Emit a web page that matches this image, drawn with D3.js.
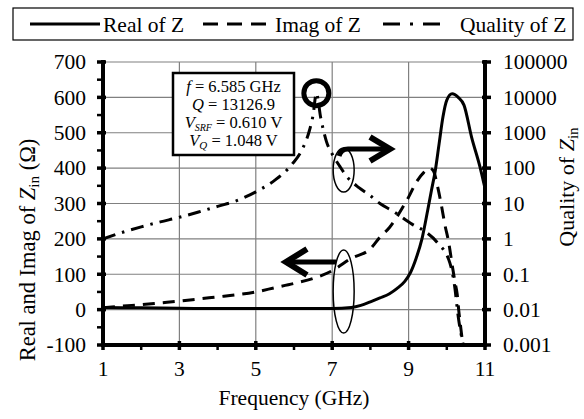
<!DOCTYPE html>
<html>
<head>
<meta charset="utf-8">
<script src="https://cdn.jsdelivr.net/npm/d3@7/dist/d3.min.js"></script>
<style>
  html, body { margin: 0; padding: 0; background: #fff; }
  svg { display: block; }
  text { font-family: "Liberation Serif", serif; fill: #000; }
</style>
</head>
<body>
<svg id="chart" width="584" height="419"></svg>
<script>
// ---- Data ----
const freqTicks = [1, 3, 5, 7, 9, 11];
const leftTicks = [-100, 0, 100, 200, 300, 400, 500, 600, 700];
const rightTicks = [0.001, 0.01, 0.1, 1, 10, 100, 1000, 10000, 100000];
const rightTickLabels = ["0.001", "0.01", "0.1", "1", "10", "100", "1000", "10000", "100000"];

const realFreq = [1, 2, 3, 4, 5, 6, 6.5, 7, 7.5, 7.75, 8, 8.25, 8.5, 8.7, 8.9, 9.05, 9.2, 9.35, 9.5, 9.6, 9.7, 9.8, 9.9, 10, 10.14, 10.3, 10.45, 10.65, 10.87, 11];
const realZ    = [6, 5, 4, 3, 3, 3, 3, 3, 6, 12, 22, 33, 45, 60, 80, 105, 146, 200, 281, 338, 394, 470, 545, 592, 610, 600, 578, 487, 403, 343];

const imagFreq = [1, 1.5, 2, 2.5, 3, 3.5, 4, 4.5, 5, 5.5, 6, 6.5, 7, 7.5, 8, 8.25, 8.5, 8.85, 9, 9.2, 9.4, 9.55, 9.65, 9.75, 9.85, 9.95, 10.05, 10.15, 10.22, 10.27, 10.32, 10.37, 10.42];
const imagZ    = [5, 10, 14, 19, 24, 30, 36, 42, 50, 62, 74, 88, 110, 145, 172, 205, 232, 290, 318, 360, 388, 400, 392, 352, 300, 240, 190, 120, 75, 45, -10, -55, -100];

const qualFreq = [1, 1.58, 2, 2.5, 3, 3.5, 4, 4.5, 5, 5.5, 5.95, 6.2, 6.4, 6.5, 6.585, 6.7, 6.85, 7, 7.2, 7.4, 7.7, 8, 8.25, 8.6, 9.1, 9.43, 9.75, 10.08, 10.2, 10.3, 10.43];
const qualZ    = [1, 1.62, 2.19, 3.02, 4.07, 5.75, 8.3, 12, 21.4, 45.7, 129, 316, 1122, 3162, 13126.9, 2630, 562, 251, 112, 55, 28, 16.6, 10, 6.0, 2.57, 1.62, 0.79, 0.21, 0.05, 0.0063, 0.001];

const legendLabels = ["Real of Z", "Imag of Z", "Quality of Z"];

// ---- Layout ----
const svg = d3.select("#chart");
const L = 103, R = 485, T = 62, B = 345;
const FS = 21.5;

const x = d3.scaleLinear().domain([1, 11]).range([L, R]);
const yL = d3.scaleLinear().domain([-100, 700]).range([B, T]);
const yR = d3.scaleLog().domain([0.001, 100000]).range([B, T]);

svg.append("defs").append("clipPath").attr("id", "clip")
  .append("rect").attr("x", L).attr("y", T - 20).attr("width", R - L).attr("height", B - T + 20);

// grid
const grid = svg.append("g");
grid.selectAll("line.h").data(leftTicks.filter(d => d > -100)).join("line")
  .attr("x1", L).attr("x2", R).attr("y1", d => yL(d)).attr("y2", d => yL(d))
  .attr("stroke", "#808080").attr("stroke-width", 1.2);
grid.selectAll("line.v").data([3, 5, 7, 9]).join("line")
  .attr("x1", d => x(d)).attr("x2", d => x(d)).attr("y1", T).attr("y2", B)
  .attr("stroke", "#808080").attr("stroke-width", 1.2);

// series
const plot = svg.append("g").attr("clip-path", "url(#clip)");
const lineReal = d3.line().x((d, i) => x(realFreq[i])).y(d => yL(d)).curve(d3.curveMonotoneX);
const lineImag = d3.line().x((d, i) => x(imagFreq[i])).y(d => yL(d)).curve(d3.curveMonotoneX);
const lineQual = d3.line().x((d, i) => x(qualFreq[i])).y(d => yR(d)).curve(d3.curveMonotoneX);

plot.append("path").attr("d", lineQual(qualZ)).attr("fill", "none").attr("stroke", "#000")
  .attr("stroke-width", 3).attr("stroke-dasharray", "13,7,2.5,7");
plot.append("path").attr("d", lineImag(imagZ)).attr("fill", "none").attr("stroke", "#000")
  .attr("stroke-width", 3).attr("stroke-dasharray", "12,8");
plot.append("path").attr("d", lineReal(realZ)).attr("fill", "none").attr("stroke", "#000")
  .attr("stroke-width", 3);

// axes
const ax = svg.append("g");
// left axis
ax.append("line").attr("x1", L).attr("x2", L).attr("y1", T - 2).attr("y2", B + 2).attr("stroke", "#000").attr("stroke-width", 4);
ax.selectAll("line.lmaj").data(leftTicks).join("line")
  .attr("x1", L - 6).attr("x2", L + 3).attr("y1", d => yL(d)).attr("y2", d => yL(d))
  .attr("stroke", "#000").attr("stroke-width", 3.5);
ax.selectAll("line.lmin").data(leftTicks.slice(0, -1).map(d => d + 50)).join("line")
  .attr("x1", L - 6).attr("x2", L).attr("y1", d => yL(d)).attr("y2", d => yL(d))
  .attr("stroke", "#000").attr("stroke-width", 2.5);
ax.selectAll("text.lt").data(leftTicks).join("text")
  .attr("x", L - 17).attr("y", d => yL(d)).attr("dy", "0.34em")
  .attr("text-anchor", "end").attr("font-size", FS).text(d => d);

// bottom axis
ax.append("line").attr("x1", L - 2).attr("x2", R + 2).attr("y1", B).attr("y2", B).attr("stroke", "#000").attr("stroke-width", 4);
ax.selectAll("line.bmaj").data(freqTicks).join("line")
  .attr("x1", d => x(d)).attr("x2", d => x(d)).attr("y1", B - 4).attr("y2", B + 5)
  .attr("stroke", "#000").attr("stroke-width", 3.5);
ax.selectAll("line.bmin").data([2, 4, 6, 8, 10]).join("line")
  .attr("x1", d => x(d)).attr("x2", d => x(d)).attr("y1", B).attr("y2", B + 5)
  .attr("stroke", "#000").attr("stroke-width", 2.5);
ax.selectAll("text.bt").data(freqTicks).join("text")
  .attr("x", d => x(d)).attr("y", B + 31)
  .attr("text-anchor", "middle").attr("font-size", FS).text(d => d);

// right axis
ax.append("line").attr("x1", R).attr("x2", R).attr("y1", T - 2).attr("y2", B + 2).attr("stroke", "#000").attr("stroke-width", 4);
ax.selectAll("line.rmaj").data(rightTicks).join("line")
  .attr("x1", R - 3).attr("x2", R + 6).attr("y1", d => yR(d)).attr("y2", d => yR(d))
  .attr("stroke", "#000").attr("stroke-width", 3.5);
ax.selectAll("text.rt").data(rightTicks).join("text")
  .attr("x", R + 18).attr("y", d => yR(d)).attr("dy", "0.34em")
  .attr("text-anchor", "start").attr("font-size", FS).text((d, i) => rightTickLabels[i]);

// axis titles
svg.append("text").attr("x", 294).attr("y", 405).attr("text-anchor", "middle")
  .attr("font-size", FS).text("Frequency (GHz)");

const lt = svg.append("text").attr("transform", "translate(35,250) rotate(-90)")
  .attr("text-anchor", "middle").attr("font-size", 22.5);
lt.append("tspan").text("Real and Imag of ");
lt.append("tspan").attr("font-style", "italic").text("Z");
lt.append("tspan").attr("font-size", 15).attr("dy", 4).text("in");
lt.append("tspan").attr("dy", -4).text(" (Ω)");

const rt = svg.append("text").attr("transform", "translate(574,187) rotate(-90)")
  .attr("text-anchor", "middle").attr("font-size", 22);
rt.append("tspan").text("Quality of ");
rt.append("tspan").attr("font-style", "italic").text("Z");
rt.append("tspan").attr("font-size", 15).attr("dy", 4).text("in");

// legend
const lg = svg.append("g");
lg.append("rect").attr("x", 13).attr("y", 8).attr("width", 560).attr("height", 32)
  .attr("fill", "#fff").attr("stroke", "#000").attr("stroke-width", 1.2);
const legX = [[30, 100, null, 103], [203, 270, "15,9", 275], [383, 440, "17,10,3,10", 460]];
legX.forEach((d, i) => {
  lg.append("line").attr("x1", d[0]).attr("x2", d[1]).attr("y1", 24).attr("y2", 24)
    .attr("stroke", "#000").attr("stroke-width", 3).attr("stroke-dasharray", d[2]);
  lg.append("text").attr("x", d[3]).attr("y", 31.5).attr("font-size", FS).text(legendLabels[i]);
});

// annotation box
const an = svg.append("g");
an.append("rect").attr("x", 173).attr("y", 73).attr("width", 121).attr("height", 82)
  .attr("fill", "#fff").attr("stroke", "#000").attr("stroke-width", 2.5);
const cx = 233.5, AF = 16.5;
const t1 = an.append("text").attr("x", cx).attr("y", 92).attr("text-anchor", "middle").attr("font-size", AF);
t1.append("tspan").attr("font-style", "italic").text("f");
t1.append("tspan").text(" = 6.585 GHz");
const t2 = an.append("text").attr("x", cx).attr("y", 110).attr("text-anchor", "middle").attr("font-size", AF);
t2.append("tspan").attr("font-style", "italic").text("Q");
t2.append("tspan").text(" = 13126.9");
const t3 = an.append("text").attr("x", cx).attr("y", 128).attr("text-anchor", "middle").attr("font-size", AF);
t3.append("tspan").attr("font-style", "italic").text("V");
t3.append("tspan").attr("font-style", "italic").attr("font-size", 10).attr("dy", 3).text("SRF");
t3.append("tspan").attr("dy", -3).text(" = 0.610  V");
const t4 = an.append("text").attr("x", cx).attr("y", 146).attr("text-anchor", "middle").attr("font-size", AF);
t4.append("tspan").attr("font-style", "italic").text("V");
t4.append("tspan").attr("font-style", "italic").attr("font-size", 11).attr("dy", 3).text("Q");
t4.append("tspan").attr("dy", -3).text(" = 1.048  V");

// peak marker circle
svg.append("circle").attr("cx", x(6.585)).attr("cy", yR(13126.9)).attr("r", 12.5)
  .attr("fill", "none").attr("stroke", "#000").attr("stroke-width", 5);

// ellipses and arrows
svg.append("ellipse").attr("cx", x(7.3)).attr("cy", 170).attr("rx", 10.5).attr("ry", 22)
  .attr("fill", "none").attr("stroke", "#000").attr("stroke-width", 1.5);
svg.append("ellipse").attr("cx", x(7.3)).attr("cy", 291.5).attr("rx", 10.5).attr("ry", 41.5)
  .attr("fill", "none").attr("stroke", "#000").attr("stroke-width", 1.5);

// right arrow (to Quality axis)
svg.append("path").attr("d", "M339,156 Q341,149 348,149 L388,149")
  .attr("fill", "none").attr("stroke", "#000").attr("stroke-width", 5);
svg.append("path").attr("d", "M370,137 L390,149 L370,161")
  .attr("fill", "none").attr("stroke", "#000").attr("stroke-width", 6).attr("stroke-linejoin", "miter");
// left arrow (to left axis)
svg.append("path").attr("d", "M336,262 L287,262")
  .attr("fill", "none").attr("stroke", "#000").attr("stroke-width", 5);
svg.append("path").attr("d", "M307,249 L286,262 L307,275")
  .attr("fill", "none").attr("stroke", "#000").attr("stroke-width", 6).attr("stroke-linejoin", "miter");
</script>
</body>
</html>
